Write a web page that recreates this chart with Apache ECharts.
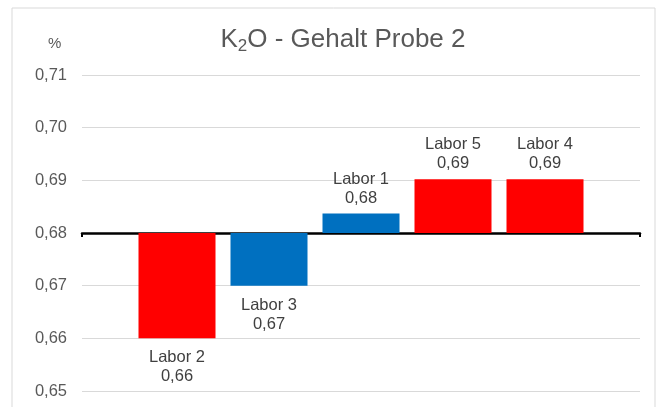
<!DOCTYPE html>
<html>
<head>
<meta charset="utf-8">
<script src="https://cdn.jsdelivr.net/npm/echarts@6/dist/echarts.min.js"></script>
<style>
  html, body { margin: 0; padding: 0; background: #fff; }
  #chart { width: 663px; height: 407px; }
</style>
</head>
<body>
<div id="chart"></div>
<script>
// data
const labs = ['Labor 2', 'Labor 3', 'Labor 1', 'Labor 5', 'Labor 4']
const values = [0.66, 0.67, 0.6837, 0.6902, 0.6902]
const colors = ['#FF0000', '#0070C0', '#0070C0', '#FF0000', '#FF0000']
const baseline = 0.68
const yTicks = [0.65, 0.66, 0.67, 0.68, 0.69, 0.70, 0.71]

const fmt = v => v.toFixed(2).replace('.', ',')
// bars are drawn as offsets from the 0,68 baseline
const yMin = Math.round((yTicks[0] - baseline) * 100) / 100
const yMax = Math.round((yTicks[yTicks.length - 1] - baseline) * 100) / 100

var mychart = echarts.init(document.getElementById('chart'))

let option = {
    animation: false,
    textStyle: { fontFamily: 'Liberation Sans, Arial, sans-serif' },
    title: {
        text: 'K{sub|2}O - Gehalt Probe 2',
        left: 338, top: 19, textAlign: 'center',
        textStyle: {
            fontSize: 26, fontWeight: 'normal', color: '#595959',
            rich: { sub: { fontSize: 17, color: '#595959', verticalAlign: 'bottom', padding: [14, 0, 0, 0] } }
        }
    },
    graphic: [
        { type: 'rect', shape: { x: 12, y: 8, width: 643, height: 420 }, style: { fill: 'none', stroke: '#d9d9d9', lineWidth: 1 } },
        { type: 'text', left: 48, top: 36, style: { text: '%', fill: '#595959', fontSize: 15, fontFamily: 'Liberation Sans' } }
    ],
    grid: [
        { left: 82, right: 23, top: 75, bottom: 16 },
        { left: 131, right: 72, top: 75, bottom: 16 }
    ],
    xAxis: [
        {
            type: 'category', gridIndex: 0, data: [''],
            axisLine: { onZero: true, lineStyle: { color: '#000', width: 2.5 } },
            axisTick: { show: true, length: 4, lineStyle: { color: '#000', width: 2 } },
            axisLabel: { show: false }
        },
        {
            type: 'category', gridIndex: 1, data: labs,
            axisLine: { show: false }, axisTick: { show: false }, axisLabel: { show: false }
        }
    ],
    yAxis: [
        {
            type: 'value', gridIndex: 0, min: yMin, max: yMax, interval: 0.01,
            axisLine: { show: false }, axisTick: { show: false },
            axisLabel: { color: '#595959', fontSize: 16.5, margin: 15, formatter: v => fmt(v + baseline) },
            splitLine: { lineStyle: { color: '#d9d9d9', width: 1 } }
        },
        {
            type: 'value', gridIndex: 1, min: yMin, max: yMax, interval: 0.01,
            axisLine: { show: false }, axisTick: { show: false }, axisLabel: { show: false },
            splitLine: { show: false }
        }
    ],
    series: [
        {
            type: 'bar', xAxisIndex: 1, yAxisIndex: 1, barWidth: 77, z: 1,
            data: values.map((v, i) => ({
                value: v - baseline,
                itemStyle: { color: colors[i] },
                label: {
                    show: true,
                    position: v >= baseline ? 'top' : 'bottom',
                    distance: v >= baseline ? 6 : 10,
                    formatter: labs[i] + '\n' + fmt(v),
                    color: '#404040', fontSize: 16.5, lineHeight: 19
                }
            }))
        }
    ]
}
mychart.setOption(option)
</script>
</body>
</html>
